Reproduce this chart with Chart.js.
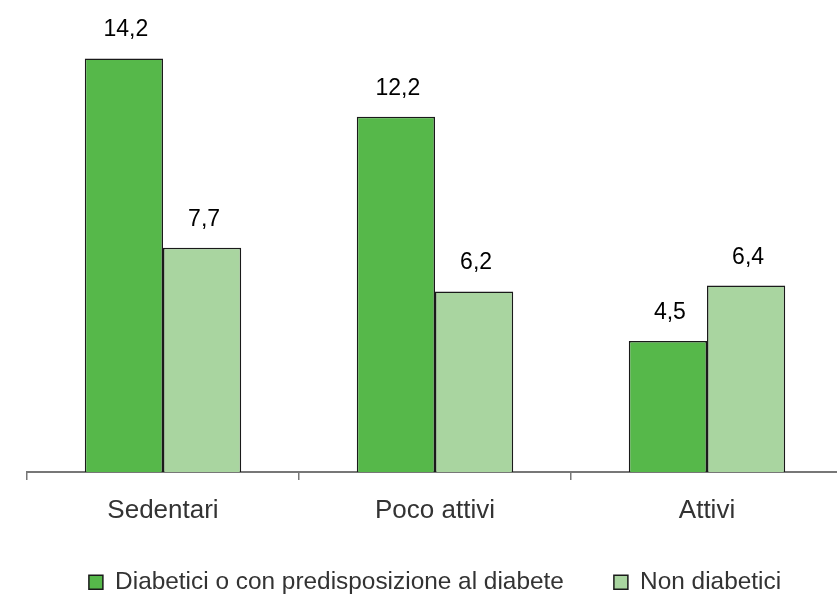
<!DOCTYPE html>
<html>
<head>
<meta charset="utf-8">
<script src="https://cdn.jsdelivr.net/npm/chart.js@4.4.1/dist/chart.umd.min.js"></script>
<style>
  html, body { margin: 0; padding: 0; background: #fff; overflow: hidden; }
  #clip { width: 837px; height: 595px; overflow: hidden; }
  #wrap { width: 843px; height: 595px; }
</style>
</head>
<body>
<div id="clip"><div id="wrap"><canvas id="chart"></canvas></div></div>
<script>
var categories = ["Sedentari", "Poco attivi", "Attivi"];
var diabetici = [14.2, 12.2, 4.5];
var nonDiabetici = [7.7, 6.2, 6.4];
var seriesNames = ["Diabetici o con predisposizione al diabete", "Non diabetici"];

// value labels above bars, comma as decimal separator
var valueLabels = {
    id: "valueLabels",
    afterDatasetsDraw: function(chart)
    {
        var ctx = chart.ctx;
        ctx.save();
        ctx.font = "23px 'Liberation Sans', Arial, sans-serif";
        ctx.fillStyle = "#000";
        ctx.textAlign = "center";
        ctx.textBaseline = "alphabetic";
        chart.data.datasets.forEach(function(ds, i)
        {
            chart.getDatasetMeta(i).data.forEach(function(bar, j)
            {
                var txt = ds.data[j].toFixed(1).replace(".", ",");
                ctx.fillText(txt, bar.x + 2, bar.y - 22);
            });
        });
        ctx.restore();
    }
};

new Chart(document.getElementById("chart"), {
    type: "bar",
    data: {
        labels: categories,
        datasets: [
            {
                label: seriesNames[0],
                data: diabetici,
                backgroundColor: "#56b84a",
                borderColor: "#1a1a1a",
                borderWidth: 1.5,
                borderSkipped: "bottom"
            },
            {
                label: seriesNames[1],
                data: nonDiabetici,
                backgroundColor: "#a9d5a0",
                borderColor: "#1a1a1a",
                borderWidth: 1.5,
                borderSkipped: "bottom"
            }
        ]
    },
    options: {
        responsive: true,
        maintainAspectRatio: false,
        animation: false,
        layout: { padding: { left: 27, right: 0, top: 6, bottom: 0 } },
        datasets: { bar: { categoryPercentage: 0.575, barPercentage: 1 } },
        scales: {
            x: {
                grid: {
                    offset: true,
                    drawOnChartArea: false,
                    drawTicks: true,
                    tickLength: 8,
                    color: "#777",
                    lineWidth: 1.5
                },
                border: { display: true, color: "#777", width: 2 },
                ticks: {
                    color: "#333",
                    padding: 15,
                    font: { family: "'Liberation Sans', Arial, sans-serif", size: 26 }
                },
                afterFit: function(scale) { scale.height = 48; }
            },
            y: {
                display: false,
                min: 0,
                max: 16
            }
        },
        plugins: {
            legend: {
                position: "bottom",
                maxHeight: 75,
                labels: {
                    boxWidth: 14,
                    boxHeight: 14,
                    padding: 50,
                    color: "#333",
                    font: { family: "'Liberation Sans', Arial, sans-serif", size: 24.4 }
                }
            },
            tooltip: { enabled: false }
        }
    },
    plugins: [valueLabels]
});
</script>
</body>
</html>
